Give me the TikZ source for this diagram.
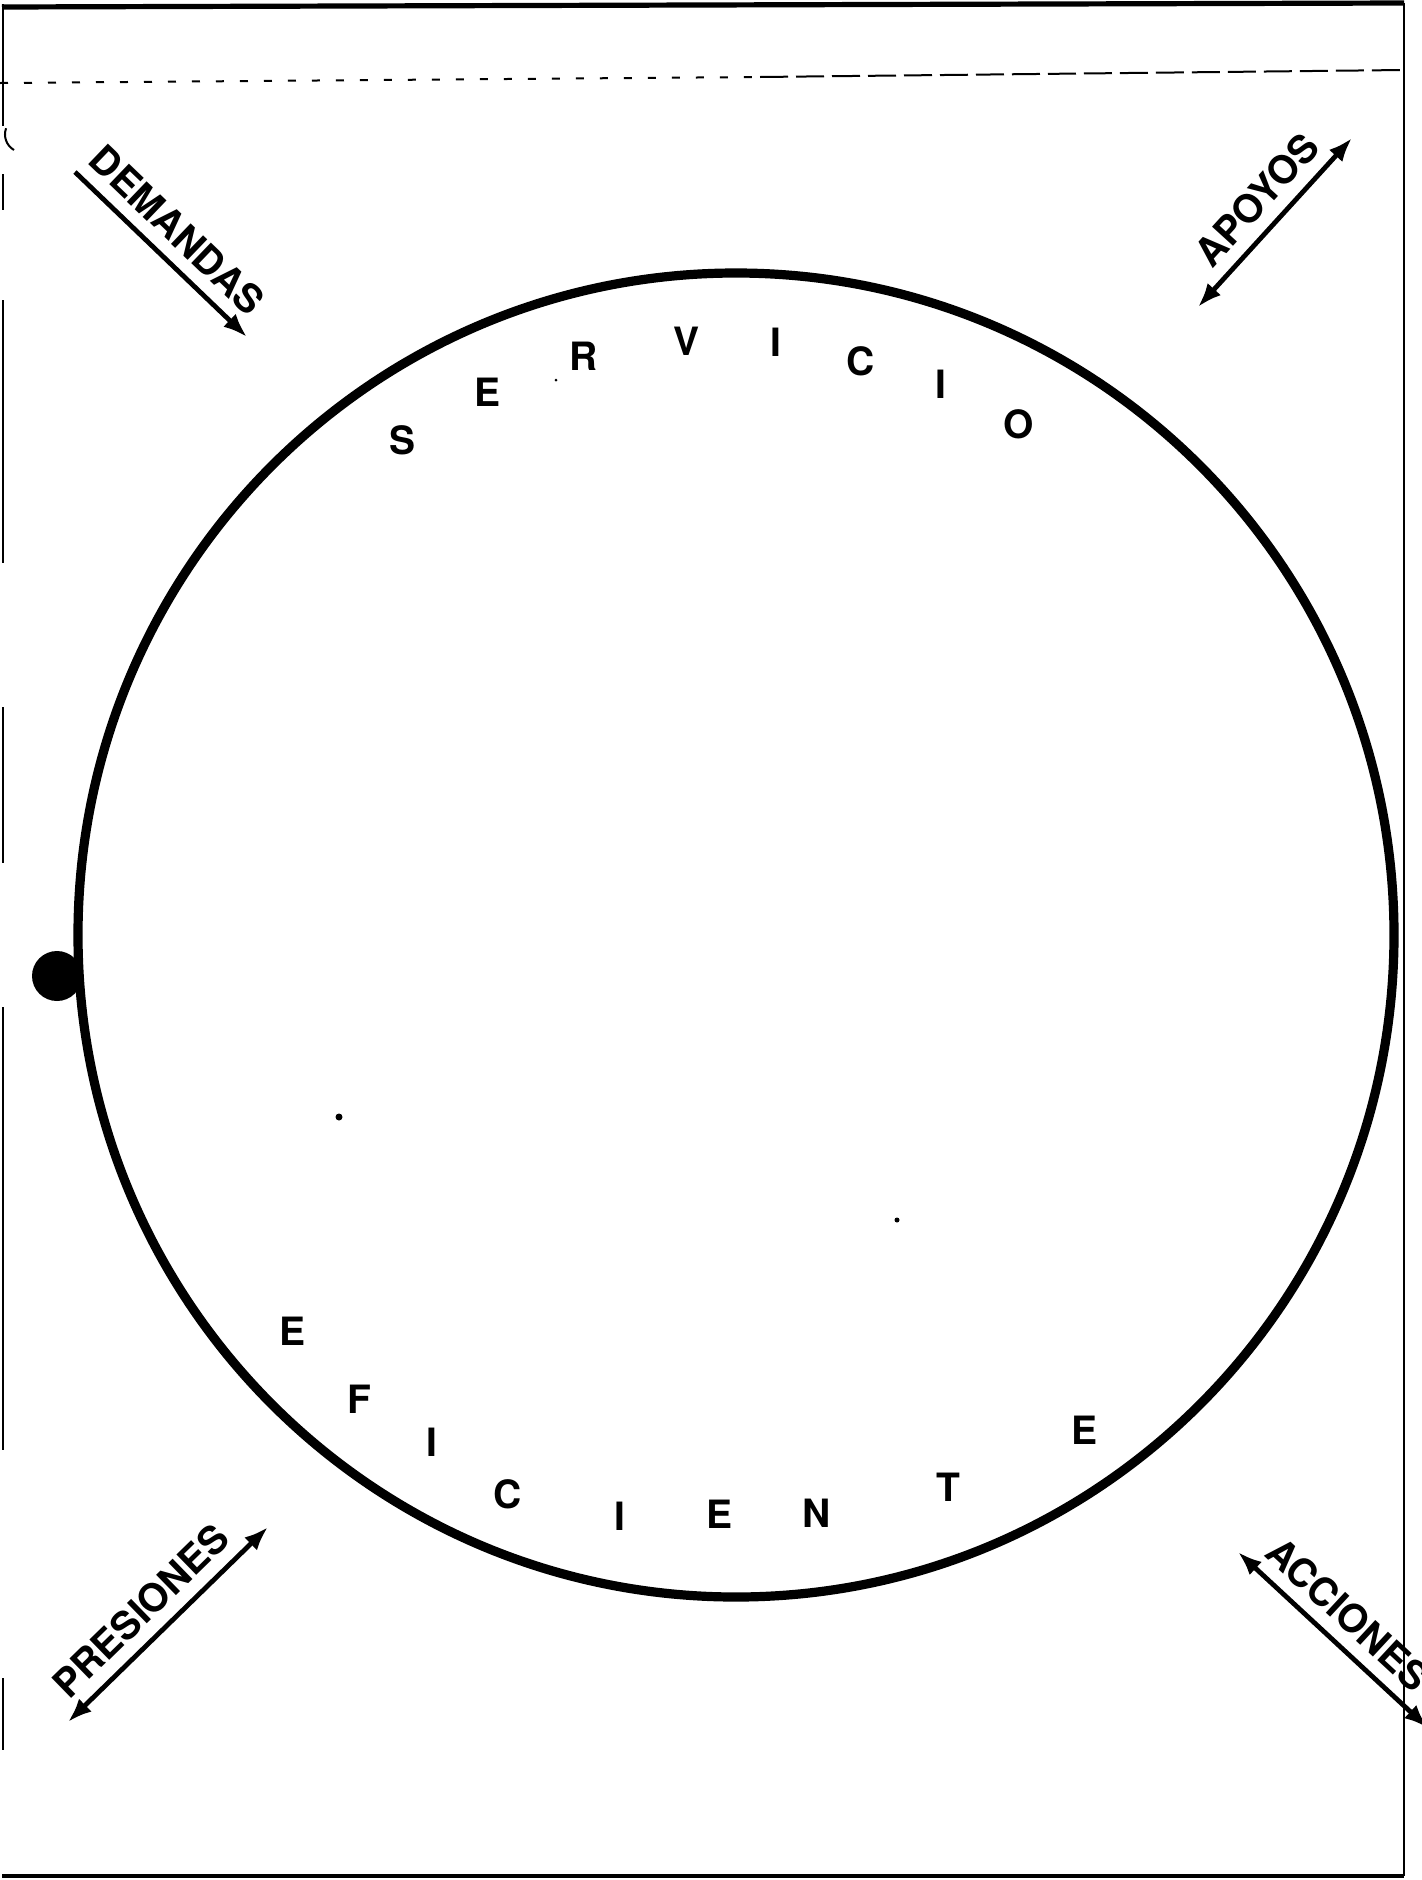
\documentclass[tikz,border=0pt]{standalone}
\usepackage{fontspec}
\setmainfont{TeX Gyre Heros}
\usetikzlibrary{arrows.meta}
\begin{document}
\begin{tikzpicture}[x=0.5pt,y=-0.5pt,
  ring/.style={line width=4.6pt},
  tipA/.tip={Latex[length=12pt,width=9pt]},
  flow/.style={line width=2.4pt,-tipA},
  flowtwo/.style={line width=2.4pt,tipA-tipA},
  lab/.style={font=\fontsize{19.5}{20}\selectfont\bfseries,sloped,above=6pt,inner sep=0pt},
  ch/.style={font=\fontsize{19.5}{20}\selectfont\bfseries,inner sep=0pt},
  frameline/.style={line width=1.8pt},
  thinline/.style={line width=1pt},
  speck/.style={fill=black}]
\useasboundingbox (0,0) rectangle (1422,1880);
\clip (0,0) rectangle (1422,1880);
\fill[white] (0,0) rectangle (1422,1880);

% page frame
\draw[frameline,line width=2.6pt] (2,7) -- (700,5) -- (1404,3);
\draw[thinline,line width=1.3pt] (1404,3) -- (1404,1876);
\draw[frameline] (2,1876) -- (1404,1876);
\foreach \a/\b in {4/126,174/210,300/563,707/863,1007/1450,1678/1750}
  \draw[thinline] (3,\a) -- (3,\b);
\draw[thinline,dash pattern=on 4pt off 8pt] (0,83) -- (760,77);
\draw[thinline,dash pattern=on 14pt off 4pt] (760,77) -- (1404,70);
\draw[thinline] (14,150) arc[start angle=120,end angle=200,radius=18];

% the ring
\coordinate (c) at (736,935);
\draw[ring] (c) ellipse [x radius=658,y radius=662];
\fill (57,976) circle [radius=25];

% letters around the ring
\node[ch] (s1) at (403,440) {S};
\node[ch] (s2) at (488,392) {E};
\node[ch] (s3) at (584,356) {R};
\node[ch] (s4) at (686,341) {V};
\node[ch] (s5) at (776,342) {I};
\node[ch] (s6) at (861,361) {C};
\node[ch] (s7) at (941,384) {I};
\node[ch] (s8) at (1019,424) {O};
\node[ch] (e1) at (293,1331) {E};
\node[ch] (e2) at (359,1399) {F};
\node[ch] (e3) at (432,1442) {I};
\node[ch] (e4) at (508,1494) {C};
\node[ch] (e5) at (620,1516) {I};
\node[ch] (e6) at (719,1514) {E};
\node[ch] (e7) at (817,1513) {N};
\node[ch] (e8) at (948,1487) {T};
\node[ch] (e9) at (1084,1430) {E};

% corner arrows
\coordinate (d1) at (75,172);   \coordinate (d2) at (247,337);
\coordinate (a1) at (1198,307); \coordinate (a2) at (1352,138);
\coordinate (p1) at (68,1722);  \coordinate (p2) at (268,1527);
\coordinate (k1) at (1238,1552);\coordinate (k2) at (1428,1728);
\draw[flow] (d1) -- (d2) node[lab,pos=0.478] (dem) {DEMANDAS};
\draw[flowtwo] (a1) -- (a2) node[lab,pos=0.52] (apo) {APOYOS};
\draw[flowtwo] (p1) -- (p2) node[lab,pos=0.465] (pre) {PRESIONES};
\draw[flowtwo] (k1) -- (k2) node[lab,pos=0.474] (acc) {ACCIONES};

% scan specks
\fill[speck] (339,1117) circle [radius=3.5];
\fill[speck] (897,1220) circle [radius=2.5];
\fill[speck] (556,380) circle [radius=1.5];
\end{tikzpicture}
\end{document}
